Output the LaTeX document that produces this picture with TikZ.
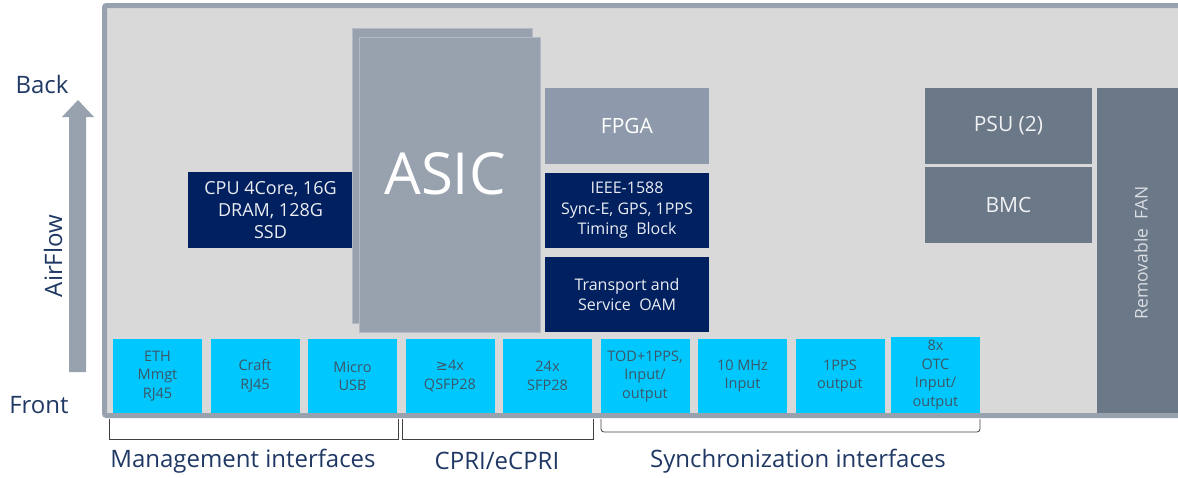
\documentclass[tikz,border=0pt]{standalone}
\usepackage{fontspec}
\setmainfont{Open Sans}
\newfontfamily\symfont{DejaVu Sans}
\definecolor{chassis}{HTML}{D9D9D9}
\definecolor{frame}{HTML}{98A2AE}
\definecolor{navy}{HTML}{002060}
\definecolor{asicgray}{HTML}{97A2AE}
\definecolor{asicedge}{HTML}{B3BAC3}
\definecolor{fpgagray}{HTML}{8E9AAB}
\definecolor{slate}{HTML}{6B7888}
\definecolor{port}{HTML}{00C8FF}
\definecolor{porttext}{HTML}{3C5666}
\definecolor{labelblue}{HTML}{1F3864}
\definecolor{bracket}{HTML}{404040}
\tikzset{
  blk/.style={inner sep=0pt, outer sep=0pt, draw=none, align=center},
  navybox/.style={blk, fill=navy, text=white!92!navy, font=\fontsize{16}{20.5}\selectfont},
  graybox/.style={blk, fill=fpgagray, text=white, font=\fontsize{21}{24}\selectfont},
  slatebox/.style={blk, fill=slate, text=white!90!slate, font=\fontsize{21}{24}\selectfont},
  portbox/.style={blk, fill=port, text=porttext, minimum width=89pt, minimum height=74pt,
    font=\fontsize{14.5}{18.5}\selectfont},
  asiclayer/.style={blk, fill=asicgray, draw=asicedge, line width=0.8pt},
  caption/.style={inner sep=0pt, text=labelblue, font=\fontsize{24}{28}\selectfont},
  brace/.style={draw=bracket, line width=0.8pt},
}
\begin{document}
\begin{tikzpicture}[x=1pt, y=-1pt]
\useasboundingbox (0,0) rectangle (1178,477);
\clip (0,0) rectangle (1178,477);

% chassis outline
\draw[fill=chassis, draw=frame, line width=5pt, rounded corners=2pt]
  (104.5,5.5) rectangle (1200,415.5);

% airflow arrow
\fill[frame] (69,372) -- (69,117) -- (62,117) -- (78,100) -- (94,117) -- (86,117) -- (86,372) -- cycle;
\node[caption] (back) at (42,84) {Back};
\node[caption] (front) at (39,405) {Front};
\node[caption, rotate=90] (airflow) at (53,256) {AirFlow};

% CPU
\node[navybox, minimum width=165pt, minimum height=76pt, font=\fontsize{18}{22}\selectfont]
  (cpu) at (270.5,210) {CPU 4Core, 16G\\DRAM, 128G\\SSD};

% ASIC (two stacked layers)
\node[asiclayer, minimum width=180pt, minimum height=295pt] (asicback) at (442,175.5) {};
\node[asiclayer, minimum width=181pt, minimum height=295pt] (asic) at (449.5,184.5) {};
\node[inner sep=0pt, text=white, font=\fontsize{58}{60}\selectfont] (asiclabel) at (445,174) {ASIC};

% FPGA and timing/OAM blocks
\node[graybox, minimum width=164pt, minimum height=76pt] (fpga) at (627,126) {FPGA};
\node[navybox, minimum width=164pt, minimum height=75pt] (timing) at (627,210.5)
  {IEEE-1588\\Sync-E, GPS, 1PPS\\Timing~~Block};
\node[navybox, minimum width=164pt, minimum height=75pt] (oam) at (627,294.5)
  {Transport and\\Service~~OAM};

% power, management controller, fan
\node[slatebox, minimum width=167pt, minimum height=76pt] (psu) at (1008.5,126) {PSU (2)};
\node[slatebox, minimum width=167pt, minimum height=76pt] (bmc) at (1008.5,205) {BMC};
\fill[slate] (1097,88) rectangle (1200,413);
\node[inner sep=0pt, rotate=90, text=white!75!slate, font=\fontsize{17.5}{20}\selectfont]
  (fan) at (1141,253) {Removable~~FAN};

% front-panel ports
\node[portbox] (eth)   at (157.5,376) {ETH\\Mmgt\\RJ45};
\node[portbox] (craft) at (255,376) {Craft\\RJ45};
\node[portbox] (usb)   at (352.5,376) {Micro\\USB};
\node[portbox] (qsfp)  at (450,376) {{\symfont ≥}4x\\QSFP28};
\node[portbox] (sfp)   at (547.5,376) {24x\\SFP28};
\node[portbox] (tod)   at (645,376) {TOD+1PPS,\\Input/\\output};
\node[portbox] (mhz)   at (742.5,376) {10 MHz\\Input};
\node[portbox] (pps)   at (840,376) {1PPS\\output};
\node[portbox, minimum height=76pt] (otc) at (935.5,375) {8x\\OTC\\Input/\\output};

% interface group brackets
\coordinate (mgA) at (109,419);
\coordinate (mgB) at (398,419);
\draw[brace] (mgA) -- ++(0,20) -| (mgB);
\coordinate (cpA) at (402,419);
\coordinate (cpB) at (593,419);
\draw[brace] (cpA) -- ++(0,20) -| (cpB);
\coordinate (syA) at (601,419);
\coordinate (syB) at (980,419);
\draw[brace, rounded corners=3pt] (syA) -- ++(0,13) -| (syB);

\node[caption] (mgmt) at (243,461) {Management interfaces};
\node[caption] (cpri) at (497,461) {CPRI/eCPRI};
\node[caption] (sync) at (798,461) {Synchronization interfaces};
\end{tikzpicture}
\end{document}
